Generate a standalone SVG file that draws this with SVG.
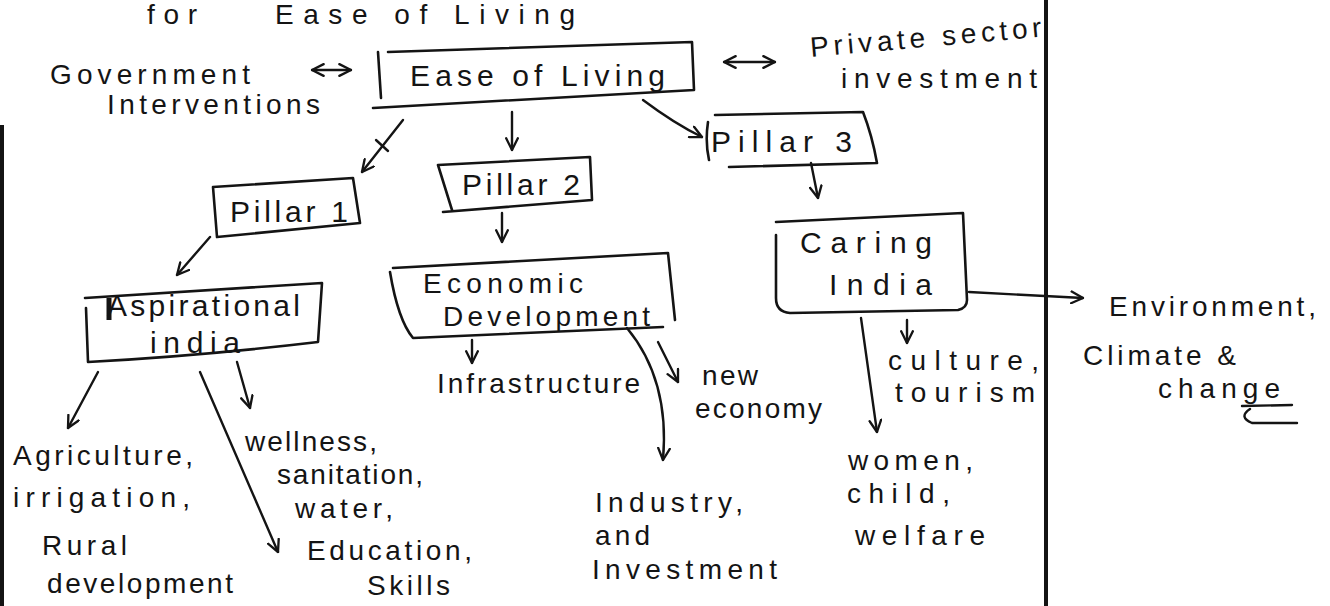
<svg xmlns="http://www.w3.org/2000/svg" width="1330" height="606" viewBox="0 0 1330 606">
<defs>
<style>
text{font-family:"Liberation Sans","DejaVu Sans",sans-serif;font-size:28px;fill:#141414}
.b{fill:none;stroke:#141414;stroke-width:2.6;stroke-linecap:round;stroke-linejoin:round}
.c{fill:none;stroke:#141414;stroke-width:2.4;stroke-linecap:round}
.a{marker-end:url(#ah)}
.bt{font-size:30px}
</style>
<marker id="ah" viewBox="0 0 12 12" refX="11" refY="6" markerWidth="14" markerHeight="14" markerUnits="userSpaceOnUse" orient="auto">
<path d="M1,1 L11,6 L1,11" fill="none" stroke="#141414" stroke-width="2" stroke-linecap="round" stroke-linejoin="round"/>
</marker>
<marker id="as" viewBox="0 0 12 12" refX="1" refY="6" markerWidth="14" markerHeight="14" markerUnits="userSpaceOnUse" orient="auto">
<path d="M11,1 L1,6 L11,11" fill="none" stroke="#141414" stroke-width="2" stroke-linecap="round" stroke-linejoin="round"/>
</marker>
</defs>
<rect width="1330" height="606" fill="#ffffff"/>

<g id="page">
<line x1="1046" y1="0" x2="1046" y2="606" stroke="#141414" stroke-width="4"/>
<line x1="2" y1="125" x2="2" y2="606" stroke="#141414" stroke-width="4"/>
<text x="147" y="24" textLength="50" lengthAdjust="spacing">for</text>
<text x="275" y="24" textLength="300" lengthAdjust="spacing">Ease of Living</text>
</g>

<g id="connectors">
<path class="c a" d="M403,120 L362,172"/>
<path class="c" d="M376,140 L388,151"/>
<path class="c a" d="M512,112 L512,150"/>
<path class="c a" d="M643,100 Q675,124 702,137"/>
<path class="c" d="M312,70 L351,70" marker-start="url(#as)" marker-end="url(#ah)"/>
<path class="c" d="M724,62 L775,62" marker-start="url(#as)" marker-end="url(#ah)"/>
<path class="c a" d="M210,237 L177,275"/>
<path class="c a" d="M502,213 L502,242"/>
<path class="c a" d="M811,163 L818,198"/>
<path class="c a" d="M98,372 L68,428"/>
<path class="c a" d="M237,362 L250,408"/>
<path class="c a" d="M200,372 Q238,460 278,552"/>
<path class="c a" d="M472,340 L472,363"/>
<path class="c a" d="M627,328 Q670,380 663,460"/>
<path class="c a" d="M658,342 L678,382"/>
<path class="c a" d="M969,292 L1083,298"/>
<path class="c a" d="M907,320 L907,343"/>
<path class="c a" d="M861,318 L877,432"/>
</g>

<g id="government">
<text x="50" y="84" font-size="27" textLength="200" lengthAdjust="spacing">Government</text>
<text x="107" y="114" font-size="27" textLength="213" lengthAdjust="spacing">Interventions</text>
</g>

<g id="ease-of-living">
<path class="b" d="M378,52 L381,98 M388,52 L692,42 L694,90 M373,108 L694,90"/>
<text class="bt" x="410" y="86" textLength="255" lengthAdjust="spacing">Ease of Living</text>
</g>

<g id="private-sector">
<text x="811" y="57" textLength="232" lengthAdjust="spacing" transform="rotate(-5 811 57)">Private sector</text>
<text x="841" y="88" textLength="196" lengthAdjust="spacing">investment</text>
</g>

<g id="pillar1">
<path class="b" d="M213,187 L353,178 L360,223 L217,237 Z"/>
<text class="bt" x="230" y="222" textLength="118" lengthAdjust="spacing">Pillar 1</text>
</g>

<g id="pillar2">
<path class="b" d="M438,165 L590,157 L592,200 L443,212 M438,165 L452,210"/>
<text class="bt" x="462" y="195" textLength="118" lengthAdjust="spacing">Pillar 2</text>
</g>

<g id="pillar3">
<path class="b" d="M708,122 Q705,142 709,160 M715,115 L863,112 Q872,135 877,163 L729,167"/>
<text class="bt" x="711" y="152" textLength="141" lengthAdjust="spacing">Pillar 3</text>
</g>

<g id="aspirational-india">
<path class="b" d="M85,298 L322,283 L318,342 Q200,356 88,362 L86,308"/>
<line x1="109" y1="298" x2="109" y2="320" stroke="#141414" stroke-width="5"/>
<text class="bt" x="107" y="316" textLength="193" lengthAdjust="spacing">Aspirational</text>
<text class="bt" x="150" y="353" textLength="90" lengthAdjust="spacing">india</text>
</g>

<g id="economic-development">
<path class="b" d="M393,268 L668,253 L675,320 M390,272 Q398,320 413,338 L663,327"/>
<text x="423" y="293" font-size="29" textLength="160" lengthAdjust="spacing">Economic</text>
<text x="443" y="326" font-size="29" textLength="207" lengthAdjust="spacing">Development</text>
</g>

<g id="caring-india">
<path class="b" d="M776,222 L963,213 L967,300 Q967,308 958,310 L790,313 Q776,312 776,298 L776,235"/>
<text class="bt" x="800" y="253" textLength="132" lengthAdjust="spacing">Caring</text>
<text class="bt" x="829" y="295" textLength="103" lengthAdjust="spacing">India</text>
</g>

<g id="agriculture">
<text x="13" y="465" textLength="180" lengthAdjust="spacing">Agriculture,</text>
<text x="13" y="507" textLength="177" lengthAdjust="spacing">irrigation,</text>
<text x="42" y="555" textLength="85" lengthAdjust="spacing">Rural</text>
<text x="47" y="593" textLength="186" lengthAdjust="spacing">development</text>
</g>

<g id="wellness">
<text x="245" y="451" textLength="132" lengthAdjust="spacing">wellness,</text>
<text x="277" y="484" textLength="146" lengthAdjust="spacing">sanitation,</text>
<text x="295" y="518" textLength="98" lengthAdjust="spacing">water,</text>
</g>

<g id="education">
<text x="307" y="560" textLength="165" lengthAdjust="spacing">Education,</text>
<text x="367" y="595" textLength="83" lengthAdjust="spacing">Skills</text>
</g>

<g id="infrastructure">
<text x="437" y="393" textLength="203" lengthAdjust="spacing">Infrastructure</text>
</g>

<g id="new-economy">
<text x="702" y="385" textLength="56" lengthAdjust="spacing">new</text>
<text x="695" y="418" textLength="127" lengthAdjust="spacing">economy</text>
</g>

<g id="industry">
<text x="595" y="512" textLength="148" lengthAdjust="spacing">Industry,</text>
<text x="595" y="545" textLength="55" lengthAdjust="spacing">and</text>
<text x="592" y="579" textLength="185" lengthAdjust="spacing">Investment</text>
</g>

<g id="culture">
<text x="888" y="370" textLength="151" lengthAdjust="spacing">culture,</text>
<text x="895" y="402" textLength="140" lengthAdjust="spacing">tourism</text>
</g>

<g id="women">
<text x="848" y="470" textLength="125" lengthAdjust="spacing">women,</text>
<text x="847" y="503" textLength="103" lengthAdjust="spacing">child,</text>
<text x="855" y="545" textLength="130" lengthAdjust="spacing">welfare</text>
</g>

<g id="environment">
<text x="1109" y="316" textLength="207" lengthAdjust="spacing">Environment,</text>
<text x="1083" y="365" textLength="153" lengthAdjust="spacing">Climate &amp;</text>
<text x="1158" y="398" textLength="122" lengthAdjust="spacing">change</text>
<path class="c" d="M1242,406 L1292,405 M1250,409 Q1238,417 1252,423 L1297,423"/>
</g>
</svg>
